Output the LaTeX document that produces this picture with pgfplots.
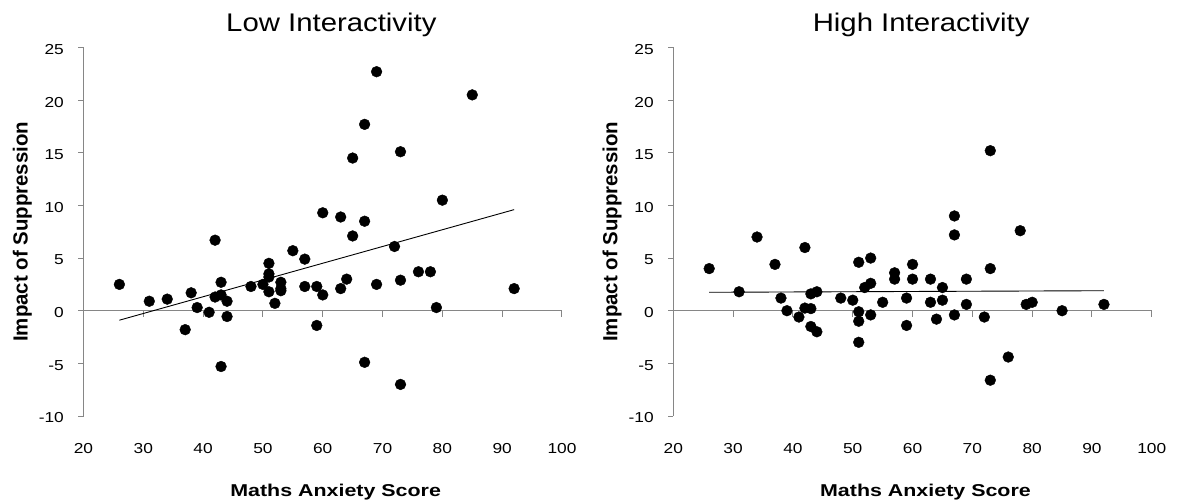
\documentclass[border=0pt]{standalone}
\usepackage{pgfplots}
\pgfplotsset{compat=1.18}
\usepackage{fontspec}
\setmainfont{Liberation Sans}
\definecolor{axisgray}{RGB}{134,134,134}
\pgfplotsset{
  anxstyle/.style={
    width=478.5bp, height=368.5bp, scale only axis,
    xmin=20, xmax=100, ymin=-10, ymax=25,
    xtick={20,30,...,100}, ytick={-10,-5,...,25},
    axis x line*=bottom, axis y line*=left,
    x axis line style={draw=none},
    y axis line style={draw=axisgray, line width=1bp},
    xtick style={draw=none},
    ytick style={draw=axisgray, line width=1bp},
    tick align=outside, major tick length=5bp,
    /pgf/number format/assume math mode=true,
    ticklabel style={font=\fontsize{14.5}{14.5}\selectfont, xscale=1.2},
    xticklabel style={anchor=base, yshift=-32bp},
    yticklabel style={anchor=east, inner sep=0pt, xshift=-12bp, yshift=-2bp},
    title style={font=\fontsize{25.6}{28}\selectfont, xscale=1.15, anchor=base,
      at={(axis description cs:0.518,1.0285)}},
    xlabel={Maths Anxiety Score},
    xlabel style={font=\bfseries\fontsize{17.2}{18}\selectfont, xscale=1.25, anchor=base,
      at={(axis description cs:0.527,-0.2198)}},
    ylabel={Impact of Suppression},
    ylabel style={font=\bfseries\fontsize{20.5}{22}\selectfont, rotate=0, anchor=base,
      at={(axis description cs:-0.117,0.5)}},
    clip=false,
  },
  dots/.style={only marks, mark=*, mark size=5.4bp, mark options={black, fill=black}},
  trend/.style={black, line width=0.9bp, no marks},
}
\begin{document}
\begin{tikzpicture}
\path[use as bounding box] (0,0) rectangle (1178bp,504bp);
\begin{axis}[anxstyle, at={(83.5bp,88bp)}, anchor=south west, title={Low Interactivity}]
  \draw[axisgray, line width=1bp] (axis cs:20,0) -- (axis cs:100,0);
  \pgfplotsinvokeforeach{30,40,50,60,70,80,90,100}{
    \draw[axisgray, line width=1bp] (axis cs:#1,0) -- (axis cs:#1,-0.57);
  }
  \addplot[dots] coordinates {
    (26,2.5) (31,0.9) (34,1.1) (37,-1.8) (38,1.7) (39,0.3) (41,-0.15) (42,6.7)
    (42,1.3) (43,2.7) (43,1.5) (43,-5.3) (44,0.9) (44,-0.55) (48,2.3) (50,2.5)
    (51,4.5) (51,3.5) (51,3.2) (51,1.8) (52,0.7) (53,2.7) (53,2.1) (53,1.9)
    (55,5.7) (57,4.9) (57,2.3) (59,2.3) (59,-1.4) (60,9.3) (60,1.5) (63,8.9)
    (63,2.1) (64,3.0) (65,7.1) (65,14.5) (67,8.5) (67,17.7) (67,-4.9) (69,2.5)
    (69,22.7) (72,6.1) (73,2.9) (73,15.1) (73,-7.0) (76,3.7) (78,3.7) (79,0.3)
    (80,10.5) (85,20.5) (92,2.1)
  };
  \addplot[trend] coordinates {(26,-0.9) (92,9.6)};
\end{axis}
\begin{axis}[anxstyle, at={(673.3bp,88bp)}, anchor=south west, title={High Interactivity}]
  \draw[axisgray, line width=1bp] (axis cs:20,0) -- (axis cs:100,0);
  \pgfplotsinvokeforeach{30,40,50,60,70,80,90,100}{
    \draw[axisgray, line width=1bp] (axis cs:#1,0) -- (axis cs:#1,-0.57);
  }
  \addplot[dots] coordinates {
    (26,4.0) (31,1.8) (34,7.0) (37,4.4) (38,1.2) (39,0.0) (41,-0.6) (42,6.0)
    (42,0.25) (43,1.6) (43,0.2) (43,-1.5) (44,1.8) (44,-2.0) (48,1.2) (50,1.0)
    (51,4.6) (51,-0.1) (51,-1.0) (51,-3.0) (52,2.2) (53,5.0) (53,2.6) (53,-0.4)
    (55,0.8) (57,3.6) (57,3.0) (59,1.2) (59,-1.4) (60,4.4) (60,3.0) (63,3.0)
    (63,0.8) (64,-0.8) (65,2.2) (65,1.0) (67,9.0) (67,7.2) (67,-0.4) (69,3.0)
    (69,0.6) (72,-0.6) (73,15.2) (73,4.0) (73,-6.6) (76,-4.4) (78,7.6) (79,0.6)
    (80,0.8) (85,0.0) (92,0.6)
  };
  \addplot[trend] coordinates {(26,1.75) (92,1.9)};
\end{axis}
\end{tikzpicture}
\end{document}
